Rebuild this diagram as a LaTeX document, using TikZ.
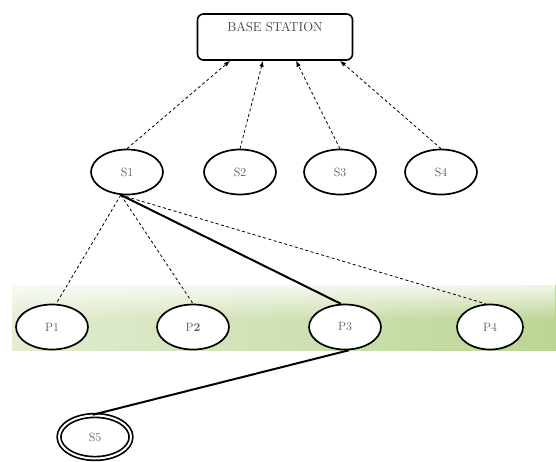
\documentclass[tikz,border=0pt]{standalone}
\usetikzlibrary{shapes.geometric,arrows.meta,fadings}
\definecolor{bandleft}{RGB}{226,237,210}
\definecolor{bandright}{RGB}{188,213,148}
\tikzfading[name=fade down, top color=transparent!20, bottom color=transparent!100]
\begin{document}
\begin{tikzpicture}[x=1pt,y=-1pt,
    snode/.style={ellipse, draw=black, line width=1.7pt, fill=white, minimum width=72pt, minimum height=45pt,
                  font=\fontsize{12}{14}\selectfont, text=black!65},
    link/.style={dashed, line width=0.8pt, dash pattern=on 3pt off 2.5pt, -{Latex[length=6pt,width=4.5pt]}},
    tie/.style={line width=0.8pt, dash pattern=on 3pt off 2.5pt},
    path/.style={line width=2pt}]
   \useasboundingbox (0,0) rectangle (556,461);
   % shaded band behind the P row
   \shade[left color=bandleft, right color=bandright] (12,285) rectangle (556,350);
   \fill[white, path fading=fade down] (12,285) rectangle (556,320);
   \node[draw, line width=1.6pt, rounded corners=6pt, minimum width=155pt, inner ysep=6pt,
         text height=11pt, text depth=23pt, font=\fontsize{13}{15}\selectfont, text=black!75]
         (base) at (275,37) {BASE STATION};
   \node[snode] (S1) at (127,172) {S1};
   \node[snode] (S2) at (240,172) {S2};
   \node[snode] (S3) at (340,172) {S3};
   \node[snode] (S4) at (441,172) {S4};
   \node[snode] (P1) at (52,327) {P1};
   \node[snode] (P2) at (193,327) {P\textbf{2}};
   \node[snode] (P3) at (345,327) {P3};
   \node[snode, minimum width=66pt] (P4) at (490,327) {P4};
   \node[snode, double, double distance=2pt, minimum width=72pt, minimum height=43pt] (S5) at (95,437) {S5};
   \draw[link] (S1.north) -- ([xshift=-45pt]base.south);
   \draw[link] (S2.north) -- ([xshift=-12pt]base.south);
   \draw[link] (S3.north) -- ([xshift=21pt]base.south);
   \draw[link] (S4.north) -- ([xshift=65pt]base.south);
   \draw[tie] (S1.255) -- (P1.80);
   \draw[tie] (S1.255) -- (P2.north);
   \draw[tie] (S1.255) -- (P4.100);
   \draw[path] (S1.255) -- (P3.100);
   \draw[path] (P3.-80) -- (S5.95);
\end{tikzpicture}
\end{document}
